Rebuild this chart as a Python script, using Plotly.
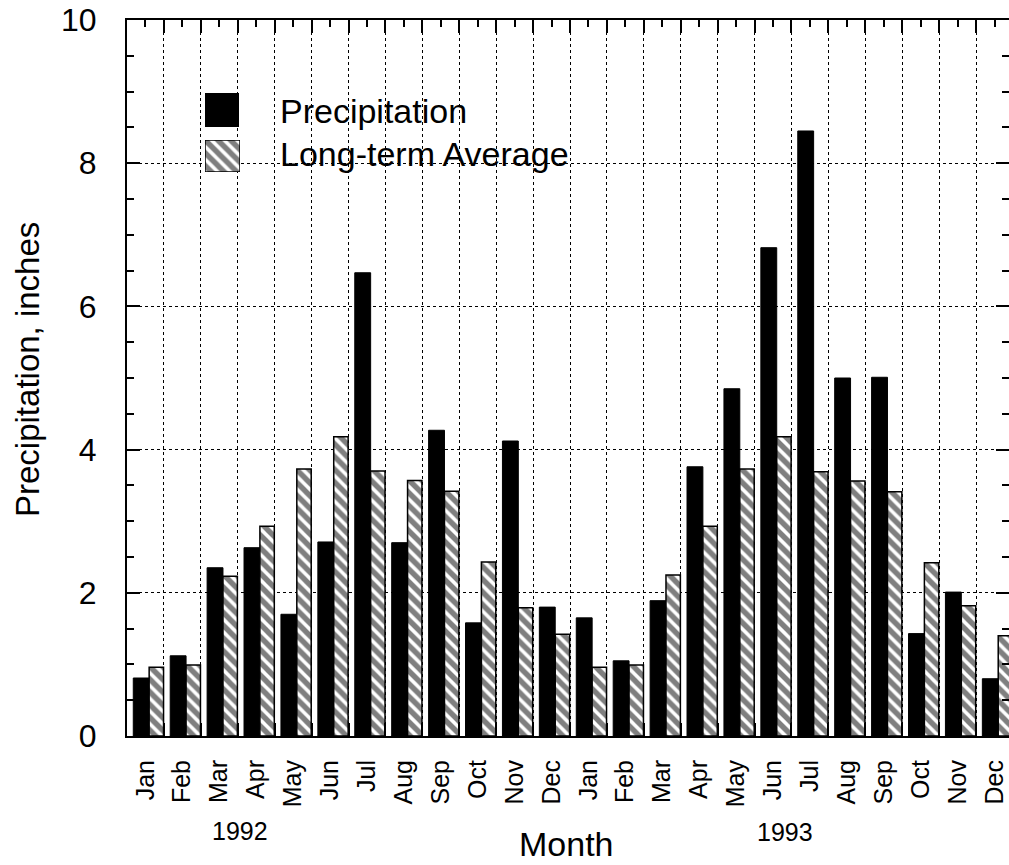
import plotly.graph_objects as go

# ---------------- data ----------------
months = ["Jan", "Feb", "Mar", "Apr", "May", "Jun", "Jul", "Aug", "Sep", "Oct", "Nov", "Dec",
          "Jan", "Feb", "Mar", "Apr", "May", "Jun", "Jul", "Aug", "Sep", "Oct", "Nov", "Dec"]
precipitation = [0.81, 1.12, 2.35, 2.63, 1.70, 2.71, 6.47, 2.70, 4.27, 1.58, 4.12, 1.80,
                 1.65, 1.05, 1.89, 3.76, 4.85, 6.82, 8.45, 5.00, 5.01, 1.43, 2.01, 0.80]
long_term_average = [0.96, 0.99, 2.23, 2.93, 3.73, 4.18, 3.70, 3.57, 3.42, 2.43, 1.79, 1.42,
                     0.96, 0.99, 2.25, 2.93, 3.73, 4.18, 3.69, 3.56, 3.41, 2.42, 1.82, 1.40]
years = ["1992", "1993"]
y_ticks = [0, 2, 4, 6, 8, 10]

# ---------------- geometry helpers (pixels -> paper) ----------------
W, H = 1009, 865
ML, MR, MT, MB = 127, 0, 20, 129
PW, PH = W - ML - MR, H - MT - MB


def px(x):
    return (x - ML) / PW


def py(y):
    return (H - MB - y) / PH


FONT = "Liberation Sans, Arial, Helvetica, sans-serif"
idx = list(range(len(months)))
boundaries = [i + 0.5 for i in range(len(months) - 1)]

hatch = dict(shape="\\", fgcolor="black", bgcolor="white", size=9, solidity=0.6)

fig = go.Figure()
fig.add_trace(go.Bar(
    x=idx, y=precipitation, name="Precipitation",
    width=0.43, offset=-0.33,
    marker=dict(color="black", line=dict(color="black", width=1)),
    showlegend=False,
))
fig.add_trace(go.Bar(
    x=idx, y=long_term_average, name="Long-term Average",
    width=0.39, offset=0.1,
    marker=dict(color="white", line=dict(color="black", width=1.5), pattern=hatch),
    showlegend=False,
))

# legend symbols drawn as tiny bars in their own small subplots
fig.add_trace(go.Bar(x=[0], y=[1], width=1, offset=-0.5, xaxis="x2", yaxis="y2",
                     marker=dict(color="black", line=dict(color="black", width=1)),
                     showlegend=False, hoverinfo="skip"))
fig.add_trace(go.Bar(x=[0], y=[1], width=1, offset=-0.5, xaxis="x3", yaxis="y3",
                     marker=dict(color="white", line=dict(color="black", width=1.5), pattern=hatch),
                     showlegend=False, hoverinfo="skip"))

axis_common = dict(showline=True, linecolor="black", linewidth=2,
                   tickcolor="black", tickfont=dict(family=FONT, color="black"),
                   zeroline=False)

fig.update_layout(
    width=W, height=H,
    margin=dict(l=ML, r=MR, t=MT, b=MB, autoexpand=False),
    paper_bgcolor="white", plot_bgcolor="white",
    barmode="overlay",
    font=dict(family=FONT, color="black"),
    xaxis=dict(
        **axis_common,
        range=[-0.5, len(months) - 0.5 - 4 / 37],
        tickmode="array", tickvals=idx, ticktext=months,
        ticks="inside", ticklen=7, tickwidth=1.5,
        tickangle=-90, ticklabelstandoff=12,
        tickfont_size=25,
        mirror="ticks",
        showgrid=False,
        minor=dict(tickmode="array", tickvals=boundaries, ticks="inside", ticklen=13,
                   tickwidth=1.5, tickcolor="black",
                   showgrid=True, gridcolor="black", griddash="dot", gridwidth=1),
    ),
    yaxis=dict(
        **axis_common,
        range=[0, 10],
        tickmode="array", tickvals=y_ticks,
        ticks="inside", ticklen=13, tickwidth=2,
        tickfont_size=32, ticklabelstandoff=22,
        mirror="ticks",
        showgrid=True, gridcolor="black", griddash="dot", gridwidth=1,
        minor=dict(dtick=0.5, ticks="inside", ticklen=7, tickwidth=2, tickcolor="black",
                   showgrid=False),
    ),
    xaxis2=dict(domain=[px(205), px(239)], anchor="y2", range=[-0.5, 0.5], visible=False,
                fixedrange=True),
    yaxis2=dict(domain=[py(127), py(93)], anchor="x2", range=[0, 1], visible=False,
                fixedrange=True),
    xaxis3=dict(domain=[px(205), px(240)], anchor="y3", range=[-0.5, 0.5], visible=False,
                fixedrange=True),
    yaxis3=dict(domain=[py(172), py(140)], anchor="x3", range=[0, 1], visible=False,
                fixedrange=True),
)

# white background behind the legend (hides grid lines)
fig.add_shape(type="rect", xref="paper", yref="paper",
              x0=px(178), x1=px(578), y0=py(187), y1=py(80),
              fillcolor="white", line=dict(width=0), layer="between")

annotations = [
    dict(text="Precipitation", x=px(278), y=py(111), xanchor="left", yanchor="middle",
         font=dict(size=34)),
    dict(text="Long-term Average", x=px(278), y=py(154), xanchor="left", yanchor="middle",
         font=dict(size=34)),
    dict(text=years[0], x=px(240), y=py(831), xanchor="center", yanchor="middle",
         font=dict(size=25)),
    dict(text=years[1], x=px(785), y=py(832), xanchor="center", yanchor="middle",
         font=dict(size=25)),
    dict(text="Month", x=px(566), y=py(865), xanchor="center", yanchor="bottom",
         font=dict(size=34)),
    dict(text="Precipitation, inches", x=px(27), y=py(370), xanchor="center",
         yanchor="middle", textangle=-90, font=dict(size=33)),
]
for a in annotations:
    a.update(xref="paper", yref="paper", showarrow=False)
    a["font"].update(family=FONT, color="black")
    fig.add_annotation(**a)

fig.write_html("out.html")
